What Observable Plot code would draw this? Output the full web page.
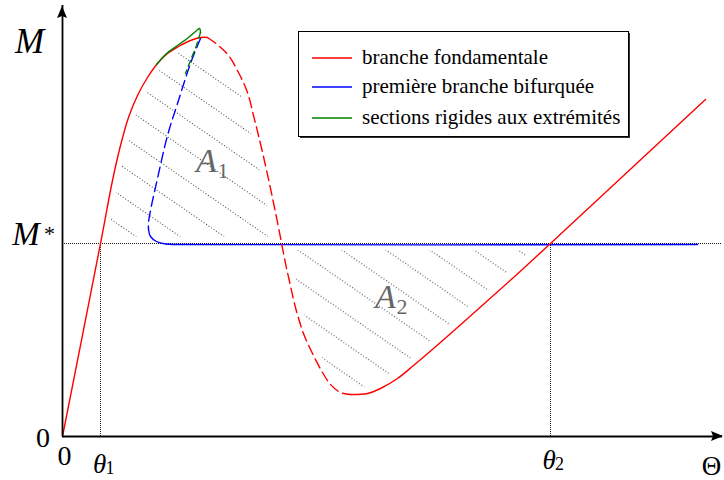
<!DOCTYPE html>
<html><head><meta charset="utf-8">
<script src="https://cdn.jsdelivr.net/npm/d3@7"></script>
<script src="https://cdn.jsdelivr.net/npm/@observablehq/plot@0.6"></script>
<style>
html,body{margin:0;padding:0;background:#fff;}
#wrap{position:relative;width:724px;height:480px;overflow:hidden;}
#wrap svg{display:block;}
#legend{position:absolute;left:0;top:0;pointer-events:none;}
#legend text{font-family:"Liberation Serif","DejaVu Serif",serif;font-size:21px;}
</style></head><body><div id="wrap"></div>
<script>
// ---- values (arbitrary units) ----
const Mstar = 1.93;     // M*
const theta1 = 0.38;    // θ1
const theta2 = 4.88;    // θ2
const crossX = 2.19;    // unstable red branch crosses M*
const xMax = 6.6;
const yMax = 4.31;

// branche fondamentale : stable (solid) up to the peak
const redStable1X = [0, 0.38, 0.50, 0.58, 0.66, 0.75, 0.85, 0.95, 1.05, 1.16, 1.28, 1.38, 1.45];
const redStable1Y = [0, 1.93, 2.56, 2.91, 3.19, 3.41, 3.59, 3.73, 3.83, 3.90, 3.96, 3.99, 3.99];
// unstable (dashed) from peak to minimum
const redUnstableX = [1.45, 1.56, 1.66, 1.76, 1.85, 1.91, 1.96, 2.03, 2.08, 2.13, 2.18, 2.22, 2.27, 2.33, 2.41, 2.50, 2.60, 2.68, 2.78, 2.88];
const redUnstableY = [3.99, 3.91, 3.81, 3.64, 3.44, 3.21, 3.01, 2.71, 2.48, 2.24, 1.99, 1.78, 1.55, 1.29, 1.03, 0.83, 0.64, 0.52, 0.44, 0.42];
// stable again (solid) after minimum
const redStable2X = [2.88, 3.05, 3.18, 3.35, 3.51, 3.71, 3.91, 4.18, 4.51, 4.88, 6.43];
const redStable2Y = [0.42, 0.43, 0.48, 0.58, 0.71, 0.88, 1.055, 1.295, 1.59, 1.93, 3.37];

// première branche bifurquée
const blueUnstableX = [1.38, 1.28, 1.15, 1.05, 0.95, 0.89, 0.86, 0.86];
const blueUnstableY = [3.98, 3.73, 3.33, 3.01, 2.58, 2.31, 2.14, 2.07];
const blueStableX = [0.86, 0.88, 0.94, 1.03, 1.16, 6.35];
const blueStableY = [2.07, 2.00, 1.95, 1.925, 1.92, 1.92];

// sections rigides aux extrémités
const greenSolidX = [0.94, 1.04, 1.15, 1.26, 1.33, 1.37, 1.38];
const greenSolidY = [3.72, 3.83, 3.91, 3.99, 4.05, 4.08, 4.04];
const greenDashedX = [1.38, 1.34, 1.28, 1.23];
const greenDashedY = [4.04, 3.91, 3.76, 3.63];

const legendLabels = ["branche fondamentale", "première branche bifurquée", "sections rigides aux extrémités"];
const legendColors = ["#ff0000", "#0000ff", "#008000"];
const areaNames = ["A", "A"];
const areaSubs = ["1", "2"];
const areaLabelX = [1.44, 3.23];
const areaLabelY = [2.75, 1.39];

// ---- build tables ----
const zip = (xs, ys) => xs.map((x, i) => ({x, y: ys[i]}));
const redS1 = zip(redStable1X, redStable1Y);
const redU = zip(redUnstableX, redUnstableY);
const redS2 = zip(redStable2X, redStable2Y);
const blueU = zip(blueUnstableX, blueUnstableY);
const blueS = zip(blueStableX, blueStableY);
const greenS = zip(greenSolidX, greenSolidY);
const greenD = zip(greenDashedX, greenDashedY);
const redAll = [...redS1, ...redU.slice(1), ...redS2.slice(1)];
const areaA1 = [{x: theta1, y: Mstar}, ...redAll.filter(d => d.x > theta1 && d.x < crossX), {x: crossX, y: Mstar}];
const areaA2 = [{x: crossX, y: Mstar}, ...redAll.filter(d => d.x > crossX && d.x < theta2), {x: theta2, y: Mstar}];
const areaLabels = areaNames.map((m, i) => ({x: areaLabelX[i], y: areaLabelY[i], main: m, sub: areaSubs[i]}));

const serif = "Liberation Serif, DejaVu Serif, serif";
const dash = "10,5";
const lw = 1.4;
const mathText = (data, opts) => Plot.text(data, {fontFamily: serif, fill: "black", textAnchor: "middle", lineAnchor: "middle", ...opts});

const plot = Plot.plot({
  width: 724, height: 480,
  marginLeft: 62, marginRight: 2, marginTop: 5, marginBottom: 44,
  x: {domain: [0, xMax], axis: null},
  y: {domain: [0, yMax], axis: null},
  style: {background: "white", overflow: "visible"},
  marks: [
    // hatched areas
    Plot.areaY(areaA1, {x: "x", y1: Mstar, y2: "y", curve: "catmull-rom", fill: "url(#hatchA1)", stroke: "white", strokeWidth: 13, strokeLinejoin: "round"}),
    Plot.areaY(areaA2, {x: "x", y1: Mstar, y2: "y", curve: "catmull-rom", fill: "url(#hatchA2)", stroke: "white", strokeWidth: 14, strokeLinejoin: "round"}),
    // guides
    Plot.ruleY([Mstar], {stroke: "black", strokeWidth: 0.9, strokeDasharray: "1,1"}),
    Plot.ruleX([theta1, theta2], {y1: 0, y2: Mstar, stroke: "black", strokeWidth: 0.9, strokeDasharray: "1,1"}),
    // curves
    Plot.line(blueS, {x: "x", y: "y", stroke: "#0000ff", strokeWidth: lw, curve: "catmull-rom"}),
    Plot.line(blueU, {x: "x", y: "y", stroke: "#0000ff", strokeWidth: lw, strokeDasharray: dash, curve: "catmull-rom"}),
    Plot.line(redS1, {x: "x", y: "y", stroke: "#ff0000", strokeWidth: lw, curve: "catmull-rom"}),
    Plot.line(redU, {x: "x", y: "y", stroke: "#ff0000", strokeWidth: lw, strokeDasharray: dash, curve: "catmull-rom"}),
    Plot.line(redS2, {x: "x", y: "y", stroke: "#ff0000", strokeWidth: lw, curve: "catmull-rom"}),
    Plot.line(greenS, {x: "x", y: "y", stroke: "#008000", strokeWidth: lw, curve: "catmull-rom"}),
    Plot.line(greenD, {x: "x", y: "y", stroke: "#008000", strokeWidth: lw, strokeDasharray: "6,4", curve: "linear"}),
    // axes
    Plot.ruleX([0], {stroke: "black", strokeWidth: 1.8}),
    Plot.ruleY([0], {stroke: "black", strokeWidth: 1.8}),
    // area labels
    Plot.text(areaLabels, {x: "x", y: "y", text: "main", fontFamily: serif, fontStyle: "italic", fontSize: 34, fill: "#666", textAnchor: "middle", lineAnchor: "middle"}),
    Plot.text(areaLabels, {x: "x", y: "y", text: "sub", fontFamily: serif, fontSize: 22, fill: "#666", textAnchor: "middle", lineAnchor: "middle", dx: 16.5, dy: 9.5}),
    // axis labels
    mathText(["M"], {frameAnchor: "top-left", text: d => d, fontStyle: "italic", fontSize: 35, dx: -33, dy: 35.8}),
    mathText([Mstar], {frameAnchor: "left", y: d => d, text: () => "M", fontStyle: "italic", fontSize: 33, dx: -36.5, dy: -8.6}),
    mathText([Mstar], {frameAnchor: "left", y: d => d, text: () => "*", fontSize: 22, dx: -13, dy: -10}),
    mathText([0], {frameAnchor: "bottom-left", text: d => String(d), fontSize: 28, dx: -19.5, dy: 2}),
    mathText([0], {frameAnchor: "bottom-left", text: d => String(d), fontSize: 28, dx: 2, dy: 20}),
    mathText([theta1], {frameAnchor: "bottom", x: d => d, text: () => "θ", fontStyle: "italic", fontSize: 27, dx: -1, dy: 27.4}),
    mathText([theta1], {frameAnchor: "bottom", x: d => d, text: () => "1", fontSize: 18, dx: 9.5, dy: 32.2}),
    mathText([theta2], {frameAnchor: "bottom", x: d => d, text: () => "θ", fontStyle: "italic", fontSize: 27, dx: -1.5, dy: 23.4}),
    mathText([theta2], {frameAnchor: "bottom", x: d => d, text: () => "2", fontSize: 18, dx: 9, dy: 28.2}),
    mathText(["Θ"], {frameAnchor: "bottom-right", text: d => d, fontSize: 27, dx: -11, dy: 30})
  ]
});

const wrap = document.getElementById("wrap");
wrap.appendChild(plot);
const svg = d3.select(plot);

// hatch patterns (dotted slanted lines)
const defs = svg.insert("defs", ":first-child");
[["hatchA1", 17.5], ["hatchA2", 11.7]].forEach(([id, phase]) => {
  const p = defs.append("pattern").attr("id", id).attr("patternUnits", "userSpaceOnUse")
    .attr("width", 12).attr("height", 25).attr("patternTransform", "rotate(34.6)");
  p.append("line").attr("x1", 0).attr("x2", 12).attr("y1", phase).attr("y2", phase)
    .attr("stroke", "#444").attr("stroke-width", 1).attr("stroke-dasharray", "1,2");
});

// arrow heads via the plot's own scales
const sx = plot.scale("x"), sy = plot.scale("y");
const X0 = sx.apply(0), Y0 = sy.apply(0), XT = sx.apply(xMax) + 1, YT = sy.apply(yMax) + 1;
svg.append("path").attr("d", `M${X0},${YT} L${X0 - 5},${YT + 12} L${X0},${YT + 10} L${X0 + 5},${YT + 12} Z`).attr("fill", "black");
svg.append("path").attr("d", `M${XT},${Y0} L${XT - 12},${Y0 - 5} L${XT - 10},${Y0} L${XT - 12},${Y0 + 5} Z`).attr("fill", "black");

// legend box (overlay)
const lg = d3.select(wrap).append("svg").attr("id", "legend").attr("width", 724).attr("height", 480);
lg.append("rect").attr("x", 300).attr("y", 33).attr("width", 330).attr("height", 105).attr("fill", "#333");
lg.append("rect").attr("x", 298.5).attr("y", 31.5).attr("width", 330).attr("height", 105).attr("fill", "white").attr("stroke", "black").attr("stroke-width", 1);
const rowY = [58, 87, 118];
legendLabels.forEach((t, i) => {
  lg.append("line").attr("x1", 312).attr("x2", 352).attr("y1", rowY[i]).attr("y2", rowY[i]).attr("stroke", legendColors[i]).attr("stroke-width", 1.4);
  lg.append("text").attr("x", 362).attr("y", rowY[i] + 5.5).attr("fill", "black").text(t);
});
</script></body></html>
